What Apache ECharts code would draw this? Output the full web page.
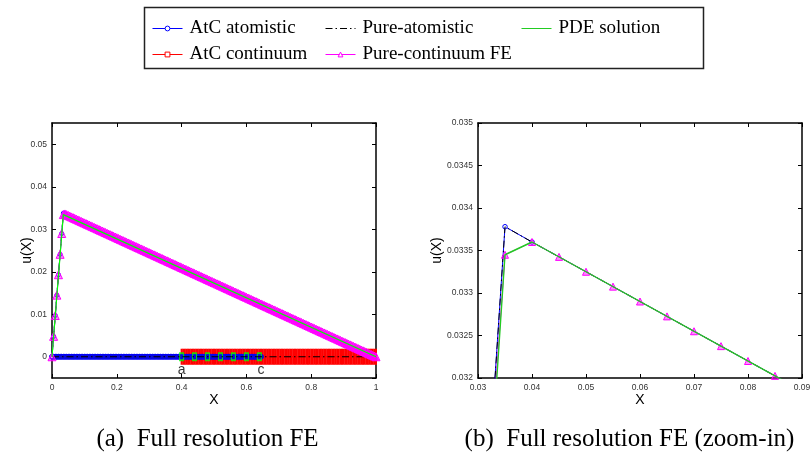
<!DOCTYPE html>
<html><head><meta charset="utf-8">
<script src="https://cdn.jsdelivr.net/npm/echarts@6/dist/echarts.min.js"></script>
<style>html,body{margin:0;padding:0;background:#fff}#c{width:810px;height:456px}</style>
</head><body><div id="c"></div>
<script>
// ---------------- data ----------------
const legendNames = ['AtC atomistic', 'AtC continuum', 'Pure-atomistic', 'Pure-continuum FE', 'PDE solution'];
const captions = ['(a)  Full resolution FE', '(b)  Full resolution FE (zoom-in)'];

// FE / lattice nodes
const xNodes = [
0,0.005,0.01,0.015,0.02,0.025,0.03,0.035,0.04,0.045,0.05,0.055,0.06,0.065,0.07,0.075,0.08,0.085,0.09,0.095,
0.1,0.105,0.11,0.115,0.12,0.125,0.13,0.135,0.14,0.145,0.15,0.155,0.16,0.165,0.17,0.175,0.18,0.185,0.19,0.195,
0.2,0.205,0.21,0.215,0.22,0.225,0.23,0.235,0.24,0.245,0.25,0.255,0.26,0.265,0.27,0.275,0.28,0.285,0.29,0.295,
0.3,0.305,0.31,0.315,0.32,0.325,0.33,0.335,0.34,0.345,0.35,0.355,0.36,0.365,0.37,0.375,0.38,0.385,0.39,0.395,
0.4,0.405,0.41,0.415,0.42,0.425,0.43,0.435,0.44,0.445,0.45,0.455,0.46,0.465,0.47,0.475,0.48,0.485,0.49,0.495,
0.5,0.505,0.51,0.515,0.52,0.525,0.53,0.535,0.54,0.545,0.55,0.555,0.56,0.565,0.57,0.575,0.58,0.585,0.59,0.595,
0.6,0.605,0.61,0.615,0.62,0.625,0.63,0.635,0.64,0.645,0.65,0.655,0.66,0.665,0.67,0.675,0.68,0.685,0.69,0.695,
0.7,0.705,0.71,0.715,0.72,0.725,0.73,0.735,0.74,0.745,0.75,0.755,0.76,0.765,0.77,0.775,0.78,0.785,0.79,0.795,
0.8,0.805,0.81,0.815,0.82,0.825,0.83,0.835,0.84,0.845,0.85,0.855,0.86,0.865,0.87,0.875,0.88,0.885,0.89,0.895,
0.9,0.905,0.91,0.915,0.92,0.925,0.93,0.935,0.94,0.945,0.95,0.955,0.96,0.965,0.97,0.975,0.98,0.985,0.99,0.995,
1];

// Pure-continuum FE displacement at every node
const pureContY = [
0,0.0048,0.0097,0.0145,0.0193,0.0241,0.029,0.03345,
0.0336,0.033425,0.03325,0.033075,0.0329,0.032725,0.03255,0.032375,0.0322,0.032025,0.03185,0.031675,0.0315,0.031325,0.03115,0.030975,0.0308,0.030625,0.03045,0.030275,
0.0301,0.029925,0.02975,0.029575,0.0294,0.029225,0.02905,0.028875,0.0287,0.028525,0.02835,0.028175,0.028,0.027825,0.02765,0.027475,0.0273,0.027125,0.02695,0.026775,
0.0266,0.026425,0.02625,0.026075,0.0259,0.025725,0.02555,0.025375,0.0252,0.025025,0.02485,0.024675,0.0245,0.024325,0.02415,0.023975,0.0238,0.023625,0.02345,0.023275,
0.0231,0.022925,0.02275,0.022575,0.0224,0.022225,0.02205,0.021875,0.0217,0.021525,0.02135,0.021175,0.021,0.020825,0.02065,0.020475,0.0203,0.020125,0.01995,0.019775,
0.0196,0.019425,0.01925,0.019075,0.0189,0.018725,0.01855,0.018375,0.0182,0.018025,0.01785,0.017675,0.0175,0.017325,0.01715,0.016975,0.0168,0.016625,0.01645,0.016275,
0.0161,0.015925,0.01575,0.015575,0.0154,0.015225,0.01505,0.014875,0.0147,0.014525,0.01435,0.014175,0.014,0.013825,0.01365,0.013475,0.0133,0.013125,0.01295,0.012775,
0.0126,0.012425,0.01225,0.012075,0.0119,0.011725,0.01155,0.011375,0.0112,0.011025,0.01085,0.010675,0.0105,0.010325,0.01015,0.009975,0.0098,0.009625,0.00945,0.009275,
0.0091,0.008925,0.00875,0.008575,0.0084,0.008225,0.00805,0.007875,0.0077,0.007525,0.00735,0.007175,0.007,0.006825,0.00665,0.006475,0.0063,0.006125,0.00595,0.005775,
0.0056,0.005425,0.00525,0.005075,0.0049,0.004725,0.00455,0.004375,0.0042,0.004025,0.00385,0.003675,0.0035,0.003325,0.00315,0.002975,0.0028,0.002625,0.00245,0.002275,
0.0021,0.001925,0.00175,0.001575,0.0014,0.001225,0.00105,0.000875,0.0007,0.000525,0.00035,0.000175,0];

// AtC atomistic displacement curve
const atcAtomCurveX = [0,0.005,0.01,0.015,0.02,0.025,0.03,0.035,0.04,0.65];
const atcAtomCurveY = [0,0.0048,0.0097,0.0145,0.0193,0.0241,0.029,0.03378,0.0336,0.01225];
// Pure-atomistic curve
const pureAtomX = [0,0.035,0.04,1];
const pureAtomY = [0,0.03378,0.0336,0];
// PDE solution
const pdeX = [0,0.035,0.04,1];
const pdeY = [0,0.03345,0.0336,0];
// reference (undeformed) rows drawn at u = 0
const baselineU = 0;
const atcAtomRange = [0, 0.645];
const atcContRange = [0.4, 1];
const pureAtomBaseX = [0, 1];
const overlapMarkX = [0.4,0.44,0.48,0.52,0.56,0.6,0.64];
// region labels
const regionLabels = ['a','c'];
const regionLabelX = [0.4, 0.645];
const regionLabelY = [-0.0031, -0.0032];

// axes
const fullXRange = [0, 1], fullXStep = 0.2;
const fullYRange = [-0.005, 0.055];
const zoomXRange = [0.03, 0.09], zoomXStep = 0.01;
const zoomYRange = [0.032, 0.035], zoomYStep = 0.0005;

// ---------------- helpers ----------------
const zip = (xs, ys) => xs.map((x, i) => [x, ys[i]]);
const inRange = (r) => xNodes.filter(x => x >= r[0] - 1e-9 && x <= r[1] + 1e-9);
const atBase = (xs) => xs.map(x => [x, baselineU]);

const C = {blue:'#0000ff', red:'#ff0000', mag:'#ff00ff', green:'#00ff00', black:'#000000'};
const dashDot = [7, 3, 1.5, 3];
const SANS = 'Liberation Sans', SERIF = 'Liberation Serif';

function mkX(gridIndex, range, step, pos, show) {
  const o = {
    type: 'value', gridIndex, position: pos, min: range[0], max: range[1],
    axisLine: {show: true, onZero: false, lineStyle: {color: '#000', width: 1.5}},
    axisTick: {show: true, inside: true, length: 4, lineStyle: {color: '#000', width: 1}},
    splitLine: {show: false},
    axisLabel: {show: show, margin: 5, fontFamily: SANS, fontSize: 8.5, color: '#333'},
    nameMoveOverlap: false
  };
  if (step) o.interval = step;
  if (show) { o.name = 'X'; o.nameLocation = 'middle'; o.nameGap = 15; o.nameTextStyle = {fontFamily: SANS, fontSize: 14, color: '#000'}; }
  return o;
}
function mkY(gridIndex, range, step, pos, show, gap) {
  const o = {
    type: 'value', gridIndex, position: pos, min: range[0], max: range[1],
    axisLine: {show: true, onZero: false, lineStyle: {color: '#000', width: 1.5}},
    axisTick: {show: true, inside: true, length: 4, lineStyle: {color: '#000', width: 1}},
    splitLine: {show: false},
    axisLabel: {show: show, margin: 5, fontFamily: SANS, fontSize: 8.5, color: '#333'},
    nameMoveOverlap: false
  };
  if (step) o.interval = step; else { o.axisLabel.showMinLabel = false; o.axisLabel.showMaxLabel = false; }
  if (show) { o.name = 'u(X)'; o.nameLocation = 'middle'; o.nameGap = gap; o.nameTextStyle = {fontFamily: SANS, fontSize: 14, color: '#000'}; }
  return o;
}

const triStyle = {color: 'rgba(255,0,255,0.45)', borderColor: C.mag, borderWidth: 1};

const series = [
  // ---- right (zoom-in) panel; listed first so legend icons use these styles
  {name: 'AtC atomistic', type: 'line', xAxisIndex: 2, yAxisIndex: 2, z: 3,
   data: zip(atcAtomCurveX, atcAtomCurveY), symbol: 'circle', symbolSize: 4.5,
   itemStyle: {color: '#fff', borderColor: C.blue, borderWidth: 1}, lineStyle: {color: C.blue, width: 1}},
  {name: 'AtC continuum', type: 'line', xAxisIndex: 0, yAxisIndex: 0, z: 2,
   data: atBase(inRange(atcContRange)), symbol: 'rect', symbolSize: [2, 16],
   itemStyle: {color: C.red}, lineStyle: {color: C.red, width: 1}},
  {name: 'Pure-atomistic', type: 'line', xAxisIndex: 2, yAxisIndex: 2, z: 4,
   data: zip(pureAtomX, pureAtomY), symbol: 'none', lineStyle: {color: C.black, width: 1, type: dashDot}},
  {name: 'Pure-continuum FE', type: 'line', xAxisIndex: 2, yAxisIndex: 2, z: 6,
   data: zip(xNodes, pureContY), symbol: 'triangle', symbolSize: 7,
   itemStyle: triStyle, lineStyle: {color: C.mag, width: 1}},
  {name: 'PDE solution', type: 'line', xAxisIndex: 2, yAxisIndex: 2, z: 7,
   data: zip(pdeX, pdeY), symbol: 'none', lineStyle: {color: '#22cc22', width: 1.4}},

  // ---- left (full) panel
  {name: 'AtC atomistic', type: 'line', xAxisIndex: 0, yAxisIndex: 0, z: 3,
   data: atBase(inRange(atcAtomRange)), symbol: 'circle', symbolSize: 5,
   itemStyle: {color: '#1a1aa0', borderColor: C.blue, borderWidth: 1}, lineStyle: {color: C.blue, width: 1}},
  {name: 'AtC atomistic', type: 'line', xAxisIndex: 0, yAxisIndex: 0, z: 3,
   data: zip(atcAtomCurveX, atcAtomCurveY), symbol: 'circle', symbolSize: 4,
   itemStyle: {color: '#fff', borderColor: C.blue, borderWidth: 1}, lineStyle: {color: C.blue, width: 1}},
  {name: 'overlap nodes', type: 'scatter', xAxisIndex: 0, yAxisIndex: 0, z: 4,
   data: atBase(overlapMarkX), symbol: 'rect', symbolSize: [4, 7],
   itemStyle: {color: 'rgba(0,0,0,0)', borderColor: C.green, borderWidth: 1.5}},
  {name: 'Pure-atomistic', type: 'line', xAxisIndex: 0, yAxisIndex: 0, z: 5,
   data: atBase(pureAtomBaseX), symbol: 'none', lineStyle: {color: C.black, width: 1, type: dashDot}},
  {name: 'Pure-atomistic', type: 'line', xAxisIndex: 0, yAxisIndex: 0, z: 5,
   data: zip(pureAtomX, pureAtomY), symbol: 'none', lineStyle: {color: C.black, width: 1, type: dashDot}},
  {name: 'Pure-continuum FE', type: 'line', xAxisIndex: 0, yAxisIndex: 0, z: 6,
   data: zip(xNodes, pureContY), symbol: 'triangle', symbolSize: 8,
   itemStyle: triStyle, lineStyle: {color: C.mag, width: 1}},
  {name: 'PDE solution', type: 'line', xAxisIndex: 0, yAxisIndex: 0, z: 7,
   data: zip(pdeX, pdeY), symbol: 'none', lineStyle: {color: C.green, width: 1.2}},
  {name: 'region labels', type: 'scatter', xAxisIndex: 0, yAxisIndex: 0, z: 8,
   data: regionLabels.map((t, i) => ({value: [regionLabelX[i], regionLabelY[i]], label: {formatter: t}})),
   symbol: 'circle', symbolSize: 1, itemStyle: {color: 'rgba(0,0,0,0)'},
   label: {show: true, position: 'inside', fontFamily: SANS, fontSize: 14, color: '#000'}}
];

const legendItem = (name) => {
  const o = {name};
  if (name === 'AtC atomistic') o.itemStyle = {color: '#fff', borderColor: C.blue, borderWidth: 1};
  else if (name === 'AtC continuum') o.itemStyle = {color: '#fff', borderColor: C.red, borderWidth: 1};
  else if (name === 'Pure-continuum FE') o.itemStyle = {color: '#fff', borderColor: C.mag, borderWidth: 1};
  else o.itemStyle = {color: 'rgba(0,0,0,0)', borderColor: 'rgba(0,0,0,0)', borderWidth: 0};
  return o;
};
const legendCommon = {
  orient: 'vertical', top: 19, itemWidth: 30, itemHeight: 6, itemGap: 7, padding: 0,
  selectedMode: false,
  lineStyle: {width: 1},
  textStyle: {fontFamily: SERIF, fontSize: 19, color: '#000', lineHeight: 19, padding: [0, 0, 0, 2]}
};

const option = {
  animation: false,
  backgroundColor: '#fff',
  grid: [
    {left: 52, top: 123, width: 324, height: 255, containLabel: false, outerBoundsMode: 'none'},
    {left: 478, top: 123, width: 324, height: 255, containLabel: false, outerBoundsMode: 'none'}
  ],
  xAxis: [
    mkX(0, fullXRange, fullXStep, 'bottom', true),
    mkX(0, fullXRange, fullXStep, 'top', false),
    mkX(1, zoomXRange, zoomXStep, 'bottom', true),
    mkX(1, zoomXRange, zoomXStep, 'top', false)
  ],
  yAxis: [
    mkY(0, fullYRange, null, 'left', true, 18),
    mkY(0, fullYRange, null, 'right', false),
    mkY(1, zoomYRange, zoomYStep, 'left', true, 34),
    mkY(1, zoomYRange, zoomYStep, 'right', false)
  ],
  legend: [
    Object.assign({}, legendCommon, {left: 152, data: [legendItem(legendNames[0]), legendItem(legendNames[1])]}),
    Object.assign({}, legendCommon, {left: 325, data: [legendItem(legendNames[2]), legendItem(legendNames[3])]}),
    Object.assign({}, legendCommon, {left: 521, data: [legendItem(legendNames[4])]})
  ],
  graphic: [
    {type: 'rect', left: 142, top: 5, shape: {x: 0, y: 0, width: 559, height: 61},
     style: {fill: 'none', stroke: '#222', lineWidth: 1.5}, z: 10},
    {type: 'text', x: 207.5, y: 439, style: {text: captions[0], fontFamily: SERIF, fontSize: 25, fill: '#000', textAlign: 'center', textVerticalAlign: 'middle'}},
    {type: 'text', x: 629.5, y: 439, style: {text: captions[1], fontFamily: SERIF, fontSize: 25, fill: '#000', textAlign: 'center', textVerticalAlign: 'middle'}}
  ],
  series: series
};

const chart = echarts.init(document.getElementById('c'), null, {renderer: 'canvas'});
chart.setOption(option);
</script>
</body></html>
